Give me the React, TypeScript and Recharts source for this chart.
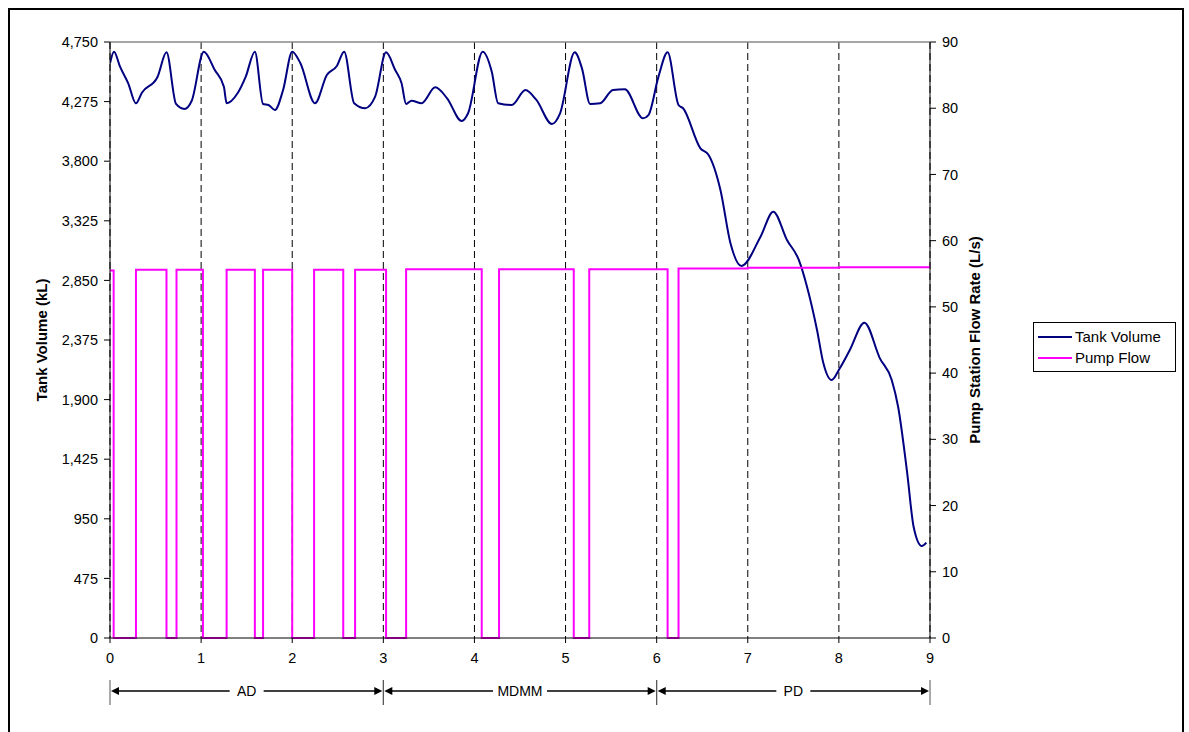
import {
    CartesianGrid,
    Legend,
    Line,
    LineChart,
    ReferenceLine,
    XAxis,
    YAxis,
    usePlotArea,
} from 'recharts';

// tank volume (kL), time in days
const tankTime = [
    0, 0.044, 0.11, 0.2, 0.285, 0.35, 0.52, 0.62, 0.725, 0.816, 0.897, 1.03, 1.15, 1.25,
    1.28, 1.4, 1.49, 1.59, 1.68, 1.74, 1.81, 1.9, 2.0, 2.09, 2.25, 2.38, 2.49, 2.57, 2.68,
    2.8, 2.91, 3.03, 3.13, 3.2, 3.25, 3.31, 3.42, 3.57, 3.7, 3.86, 3.93, 4.09, 4.19, 4.26,
    4.41, 4.56, 4.68, 4.85, 4.94, 5.1, 5.18, 5.27, 5.38, 5.52, 5.65, 5.85, 5.91, 6.02, 6.12,
    6.24, 6.29, 6.48, 6.57, 6.7, 6.81, 6.93, 7.14, 7.28, 7.43, 7.56, 7.65, 7.76, 7.83, 7.92,
    8.01, 8.12, 8.28, 8.45, 8.58, 8.65, 8.75, 8.82, 8.91, 8.96,
];
const tankVolume = [
    4580, 4673, 4553, 4421, 4262, 4346, 4469, 4668, 4256, 4216, 4282, 4673, 4527, 4394,
    4262, 4341, 4474, 4673, 4256, 4248, 4208, 4368, 4673, 4580, 4262, 4487, 4559, 4673, 4262,
    4222, 4314, 4668, 4527, 4421, 4256, 4282, 4262, 4389, 4301, 4120, 4182, 4673, 4513, 4262,
    4248, 4368, 4288, 4097, 4182, 4668, 4540, 4256, 4262, 4368, 4373, 4142, 4168, 4474, 4668,
    4248, 4222, 3903, 3850, 3571, 3146, 2965, 3198, 3398, 3172, 3013, 2800, 2455, 2189, 2056,
    2150, 2295, 2513, 2229, 2056, 1843, 1313, 887, 733, 760,
];

// pump flow (L/s), each value holds until the next time
const pumpTime = [
    0, 0.04, 0.285, 0.62, 0.73, 1.02, 1.28, 1.59, 1.68, 2.0, 2.24, 2.56, 2.69, 3.03, 3.25,
    4.08, 4.27, 5.09, 5.26, 6.12, 6.24, 7.0, 8.0, 9.0,
];
const pumpFlow = [
    55.5, 0, 55.6, 0, 55.6, 0, 55.6, 0, 55.6, 0, 55.6, 0, 55.6, 0, 55.7, 0, 55.7, 0, 55.7, 0,
    55.8, 55.9, 56.0, 56.3,
];

const xTicks = [0, 1, 2, 3, 4, 5, 6, 7, 8, 9];
const volumeTicks = [0, 475, 950, 1425, 1900, 2375, 2850, 3325, 3800, 4275, 4750];
const flowTicks = [0, 10, 20, 30, 40, 50, 60, 70, 80, 90];
const legendOrder = ['Tank Volume', 'Pump Flow'];

const periods = [
    { label: 'AD', from: 0, to: 3 },
    { label: 'MDMM', from: 3, to: 6 },
    { label: 'PD', from: 6, to: 9 },
];

const tankData = tankTime.map((t, i) => ({ t, volume: tankVolume[i] }));
const pumpData = pumpTime.map((t, i) => ({ t, flow: pumpFlow[i] }));

const FONT = '"Liberation Sans", Arial, sans-serif';
const X_MAX = 9;

// AD / MDMM / PD arrows under the axis
const PeriodArrows = () => {
    const area = usePlotArea();
    if (!area) return null;
    const px = (t: number) => area.x + (t / X_MAX) * area.width;
    const y = area.y + area.height + 53;
    const head = 8;

    return (
        <g>
            {periods.map((p) => {
                const x1 = px(p.from);
                const x2 = px(p.to);
                const mid = (x1 + x2) / 2;
                const gap = p.label.length * 10 + 14;
                return (
                    <g key={p.label}>
                        <line x1={x1} y1={y - 11} x2={x1} y2={y + 14} stroke="#555" strokeWidth={1} />
                        <line x1={x2} y1={y - 11} x2={x2} y2={y + 14} stroke="#555" strokeWidth={1} />
                        <line x1={x1 + head} y1={y} x2={mid - gap / 2} y2={y} stroke="#000" strokeWidth={1.5} />
                        <line x1={mid + gap / 2} y1={y} x2={x2 - head} y2={y} stroke="#000" strokeWidth={1.5} />
                        <polygon points={`${x1 + 1},${y} ${x1 + head + 1},${y - 4} ${x1 + head + 1},${y + 4}`} fill="#000" />
                        <polygon points={`${x2 - 1},${y} ${x2 - head - 1},${y - 4} ${x2 - head - 1},${y + 4}`} fill="#000" />
                        <text x={mid} y={y + 5} textAnchor="middle" fontSize={14} fontFamily={FONT} fill="#000">
                            {p.label}
                        </text>
                    </g>
                );
            })}
        </g>
    );
};

const renderLegend = (props: any) => {
    const items = [...(props.payload || [])].sort(
        (a: any, b: any) => legendOrder.indexOf(a.value) - legendOrder.indexOf(b.value)
    );
    return (
        <div
            style={{
                border: '1px solid #000',
                background: '#fff',
                padding: '3px 4px',
                fontFamily: FONT,
                fontSize: 15,
                lineHeight: '21px',
                width: 143,
                boxSizing: 'border-box',
            }}
        >
            {items.map((item: any) => (
                <div key={item.value} style={{ display: 'flex', alignItems: 'center' }}>
                    <span
                        style={{
                            display: 'inline-block',
                            width: 34,
                            height: 0,
                            borderTop: `2px solid ${item.color}`,
                            marginRight: 3,
                        }}
                    />
                    {item.value}
                </div>
            ))}
        </div>
    );
};

const App = () => {
    return (
        <div style={{ position: 'fixed', left: 0, top: 0, width: 1189, height: 732, overflow: 'hidden', background: '#fff' }}>
            <div
                style={{
                    position: 'absolute',
                    left: 8,
                    top: 8,
                    width: 1176,
                    height: 760,
                    border: '2px solid #000',
                    boxSizing: 'border-box',
                }}
            />
            <div style={{ position: 'absolute', left: 0, top: 0 }}>
                <LineChart
                    width={1189}
                    height={732}
                    margin={{ top: 42, right: 199, bottom: 64, left: 50 }}
                    style={{ fontFamily: FONT }}
                >
                    <CartesianGrid
                        horizontal={false}
                        stroke="#000"
                        strokeDasharray="7 4"
                        yAxisId="left"
                    />
                    <XAxis
                        dataKey="t"
                        type="number"
                        domain={[0, X_MAX]}
                        ticks={xTicks}
                        allowDataOverflow
                        height={30}
                        stroke="#000"
                        tickSize={5}
                        tickMargin={10}
                        tick={{ fontSize: 14.5, fill: '#000' }}
                    />
                    <YAxis
                        yAxisId="left"
                        domain={[0, 4750]}
                        ticks={volumeTicks}
                        width={60}
                        stroke="#000"
                        tickSize={6}
                        tickMargin={6}
                        tick={{ fontSize: 14.5, fill: '#000' }}
                        tickFormatter={(v: number) => v.toLocaleString('en-US')}
                        label={{
                            value: 'Tank Volume (kL)',
                            angle: -90,
                            position: 'center',
                            dx: -38,
                            style: { fontSize: 15, fontWeight: 'bold', fill: '#000' },
                        }}
                    />
                    <YAxis
                        yAxisId="right"
                        orientation="right"
                        domain={[0, 90]}
                        ticks={flowTicks}
                        width={60}
                        stroke="#000"
                        tickSize={6}
                        tickMargin={6}
                        tick={{ fontSize: 14.5, fill: '#000' }}
                        label={{
                            value: 'Pump Station Flow Rate (L/s)',
                            angle: -90,
                            position: 'center',
                            dx: 15,
                            style: { fontSize: 15, fontWeight: 'bold', fill: '#000' },
                        }}
                    />
                    <ReferenceLine yAxisId="left" y={4750} stroke="#888" strokeWidth={1.5} />
                    <Line
                        yAxisId="left"
                        data={tankData}
                        dataKey="volume"
                        name="Tank Volume"
                        type="monotone"
                        stroke="#000080"
                        strokeWidth={2}
                        dot={false}
                        isAnimationActive={false}
                    />
                    <Line
                        yAxisId="right"
                        data={pumpData}
                        dataKey="flow"
                        name="Pump Flow"
                        type="stepAfter"
                        stroke="#FF00FF"
                        strokeWidth={2}
                        dot={false}
                        isAnimationActive={false}
                    />
                    <Legend
                        layout="vertical"
                        align="center"
                        verticalAlign="middle"
                        content={renderLegend}
                        wrapperStyle={{ position: 'absolute', left: 1033, top: 322, width: 143 }}
                    />
                    <PeriodArrows />
                </LineChart>
            </div>
        </div>
    );
};

export default App;
